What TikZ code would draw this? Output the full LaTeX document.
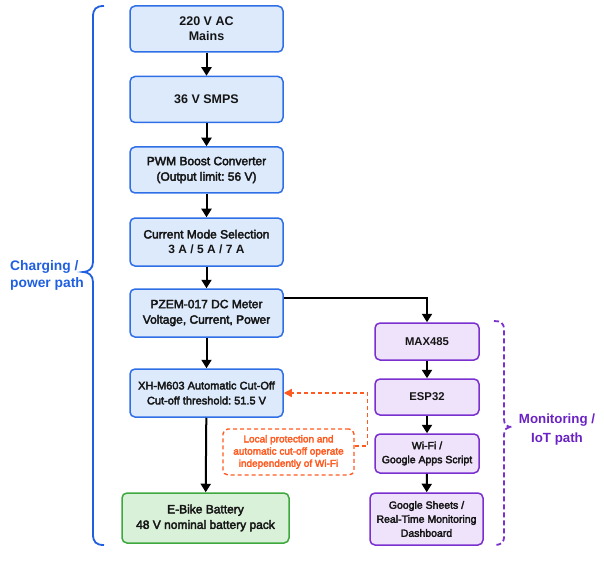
\documentclass[tikz,border=0pt]{standalone}
\usepackage{fontspec}
\setmainfont{Liberation Sans}
\newfontfamily\medfont[FakeBold=3]{Liberation Sans}
\usetikzlibrary{arrows.meta}
\frenchspacing
\definecolor{bluefill}{HTML}{DCEAFC}
\definecolor{blueline}{HTML}{2F6FE6}
\definecolor{bluelab}{HTML}{1F5FE0}
\definecolor{greenfill}{HTML}{D8F1D8}
\definecolor{greenline}{HTML}{3EA83E}
\definecolor{purfill}{HTML}{EFE2FB}
\definecolor{purline}{HTML}{7A2FCF}
\definecolor{purlab}{HTML}{6A22C4}
\definecolor{orng}{HTML}{FF5A1F}
\definecolor{textc}{HTML}{151515}
\begin{document}
\begin{tikzpicture}[x=1pt,y=-1pt,
  box/.style={draw, rounded corners=5pt, line width=1.5pt, align=center, inner sep=0pt, text=textc},
  bluebox/.style={box, draw=blueline, fill=bluefill, minimum width=153pt, minimum height=46pt},
  greenbox/.style={box, draw=greenline, fill=greenfill},
  purbox/.style={box, draw=purline, fill=purfill, minimum width=104pt},
  bigb/.style={font=\bfseries\fontsize{12.5}{15}\selectfont},
  medt/.style={font=\medfont\fontsize{12}{15.5}\selectfont},
  smallt/.style={font=\medfont\fontsize{10.5}{14}\selectfont},
  arr/.style={line width=2pt, -{Triangle[length=8.5pt,width=10pt]}},
  oarr/.style={line width=1.4pt, draw=orng, dash pattern=on 4pt off 3pt, -{Triangle[length=8pt,width=8pt]}}
]
\useasboundingbox (0,0) rectangle (604,561);
% left column
\node[bluebox, bigb] (b1) at (206.5,29) {220 V AC\\Mains};
\node[bluebox, bigb] (b2) at (206.5,99.5) {36 V SMPS};
\node[bluebox, medt] (b3) at (206.5,170) {PWM Boost Converter\\(Output limit: 56 V)};
\node[bluebox, medt, minimum height=48pt] (b4) at (206.5,242) {Current Mode Selection\\{\normalfont\bfseries 3 A / 5 A / 7 A}};
\node[bluebox, medt, minimum height=48pt] (b5) at (206.5,313) {PZEM-017 DC Meter\\Voltage, Current, Power};
\node[bluebox, medt, minimum height=48pt, font=\medfont\fontsize{11}{15}\selectfont] (b6) at (206.5,393) {XH-M603 Automatic Cut-Off\\Cut-off threshold: 51.5 V};
\node[greenbox, medt, minimum width=167pt, minimum height=50pt] (bat) at (205.5,518) {E-Bike Battery\\48 V nominal battery pack};
% right column
\node[purbox, minimum height=37pt, font=\bfseries\fontsize{11.3}{14}\selectfont] (m1) at (427,341.5) {MAX485};
\node[purbox, minimum height=36pt, font=\bfseries\fontsize{11.3}{14}\selectfont] (m2) at (427,397) {ESP32};
\node[purbox, minimum height=39pt, smallt] (m3) at (427,453.5) {Wi-Fi /\\Google Apps Script};
\node[purbox, minimum width=113pt, minimum height=52pt, smallt] (m4) at (426.5,519) {Google Sheets /\\Real-Time Monitoring\\Dashboard};
% note
\node[draw=orng, line width=1.4pt, dash pattern=on 4pt off 3pt, rounded corners=5pt, fill=white,
  minimum width=131pt, minimum height=46pt, inner sep=0pt, align=center, text=orng,
  font=\medfont\fontsize{10}{12.2}\selectfont] (note) at (288.5,452)
  {Local protection and\\automatic cut-off operate\\independently of Wi-Fi};
% arrows
\draw[arr] (b1) -- (b2);
\draw[arr] (b2) -- (b3);
\draw[arr] (b3) -- (b4);
\draw[arr] (b4) -- (b5);
\draw[arr] (b5) -- (b6);
\draw[arr] (b6) -- (bat);
\draw[arr] ([yshift=15pt]b5.east) -| (m1.north);
\draw[arr] (m1) -- (m2);
\draw[arr] (m2) -- (m3);
\draw[arr] (m3) -- (m4);
\draw[oarr] ([yshift=6pt]note.east) -- ++(13,0) |- (b6.east);
% left brace
\draw[bluelab, line width=1.8pt] (104,6) .. controls (96,6) and (93,9) .. (93,17) -- (93,262)
  .. controls (93,269) and (88,272) .. (83,272) .. controls (88,272) and (93,275) .. (93,282)
  -- (93,534) .. controls (93,542) and (96,545) .. (104,545);
\node[anchor=west, align=left, text=bluelab, inner sep=0pt, font=\bfseries\fontsize{13.8}{17}\selectfont] (lab1) at (10,275.5) {Charging /\\power path};
% right brace
\draw[purline, line width=1.8pt, dash pattern=on 5pt off 3pt] (494,321) .. controls (501,321) and (504,323) .. (504,330) -- (504,419)
  .. controls (504,425) and (507,427) .. (512,427) .. controls (507,427) and (504,429) .. (504,435)
  -- (504,536) .. controls (504,543) and (501,545) .. (494,545);
\node[align=center, text=purlab, inner sep=0pt, font=\bfseries\fontsize{13.3}{19}\selectfont] (lab2) at (557,429.5) {Monitoring /\\IoT path};
\end{tikzpicture}
\end{document}
